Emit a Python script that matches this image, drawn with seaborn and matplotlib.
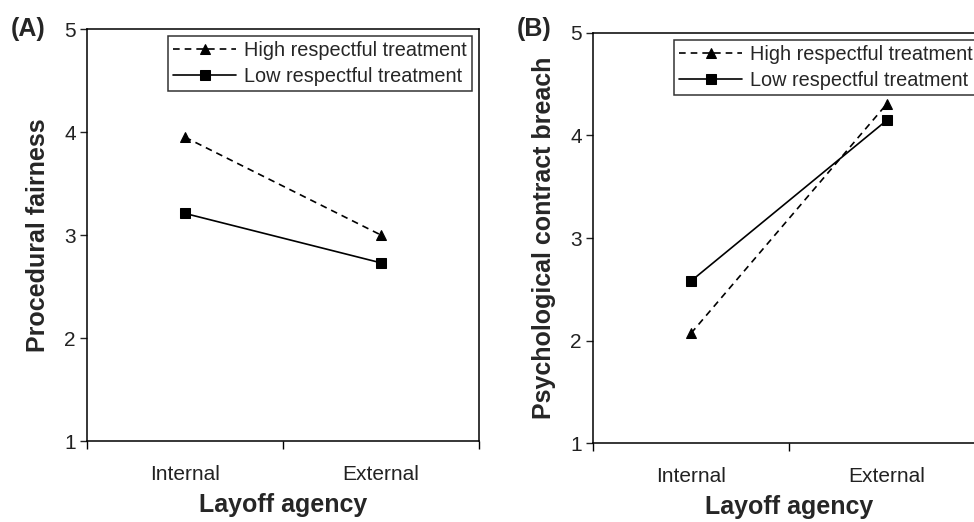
import matplotlib

matplotlib.use("Agg")
import matplotlib.pyplot as plt
import pandas as pd
import seaborn as sns

sns.set_theme(style="white")
plt.rcParams["font.family"] = ["Liberation Sans", "DejaVu Sans"]

AGENCY = ["Internal", "External"]
SERIES = ["High respectful treatment", "Low respectful treatment"]
FAIRNESS_HIGH = [3.95, 3.00]
FAIRNESS_LOW = [3.21, 2.73]
BREACH_HIGH = [2.07, 4.31]
BREACH_LOW = [2.58, 4.15]

STYLE = {
    SERIES[0]: dict(marker="^", markersize=6.5, dashes=(4, 3)),
    SERIES[1]: dict(marker="s", markersize=7.5, dashes=""),
}


def draw_panel(ax, high, low, ylabel, tag, tag_y):
    for name, vals in zip(SERIES, [high, low]):
        d = pd.DataFrame({"x": range(len(AGENCY)), "y": vals})
        st = STYLE[name]
        sns.lineplot(data=d, x="x", y="y", ax=ax, color="black",
                     linewidth=1.2, marker=st["marker"],
                     markersize=st["markersize"], markeredgecolor="black",
                     label=name)
        if st["dashes"]:
            ax.lines[-1].set_dashes(st["dashes"])
    ax.set_xlim(-0.5, 1.5)
    ax.set_ylim(1, 5)
    ax.set_yticks([1, 2, 3, 4, 5])
    ax.set_xticks([0, 1])
    ax.set_xticklabels(AGENCY)
    ax.set_xticks([-0.5, 0.5, 1.5], minor=True)
    ax.tick_params(axis="x", which="major", length=0, pad=17, labelsize=15,
                   colors="#222222")
    ax.tick_params(axis="x", which="minor", length=6, width=1, direction="out",
                   bottom=True, color="black")
    ax.tick_params(axis="y", length=5, width=1, direction="out", left=True,
                   labelsize=15, colors="#222222", pad=3)
    for sp in ax.spines.values():
        sp.set_color("black")
        sp.set_linewidth(1.1)
    ax.set_xlabel("Layoff agency", fontsize=18, fontweight="bold", labelpad=7)
    ax.set_ylabel(ylabel, fontsize=18, fontweight="bold", labelpad=10)
    leg = ax.legend(loc="upper right", fontsize=14.3, frameon=True, fancybox=False,
                    edgecolor="black", handlelength=3.2, handletextpad=0.4,
                    labelspacing=0.35, borderpad=0.25, borderaxespad=0.35)
    leg.get_frame().set_linewidth(1.1)
    ax.text(-0.105, tag_y, tag, transform=ax.transAxes, fontsize=18,
            fontweight="bold", ha="right", va="center")


fig = plt.figure(figsize=(9.74, 5.22), dpi=100)
ax_a = fig.add_axes([0.0893, 0.155, 0.4025, 0.7894])
ax_b = fig.add_axes([0.6088, 0.1513, 0.4025, 0.7855])
draw_panel(ax_a, FAIRNESS_HIGH, FAIRNESS_LOW, "Procedural fairness", "(A)", 1.0)
draw_panel(ax_b, BREACH_HIGH, BREACH_LOW, "Psychological contract breach", "(B)", 1.01)
fig.savefig("out.png", dpi=100)
